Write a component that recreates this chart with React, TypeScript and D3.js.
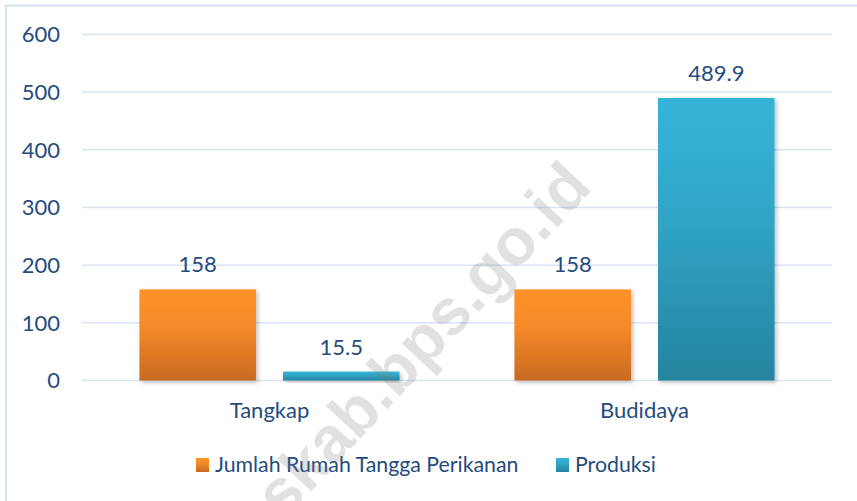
import React from "react";
import * as d3 from "d3";

const categories = ["Tangkap", "Budidaya"];
const seriesNames = ["Jumlah Rumah Tangga Perikanan", "Produksi"];
const rumahTangga = [158, 158];
const produksi = [15.5, 489.9];
const valueLabels = [["158", "15.5"], ["158", "489.9"]];
const yTicks = [0, 100, 200, 300, 400, 500, 600];

const W = 857;
const H = 501;
const FONT = "Lato, 'Open Sans', 'DejaVu Sans', sans-serif";
const TEXT = "#264b7d";

export default function App() {
  const y = d3.scaleLinear().domain([0, 600]).range([380.5, 34.5]);
  const x0 = d3.scaleBand<string>().domain(categories).range([82, 832]).padding(0);
  const x1 = d3
    .scaleBand<string>()
    .domain(seriesNames)
    .range([0, x0.bandwidth()])
    .paddingInner(0.188)
    .paddingOuter(0.4);

  const series = [rumahTangga, produksi];
  const grads = ["gOrange", "gTeal"];

  return (
    <svg
      width={W}
      height={H}
      style={{ position: "absolute", left: 0, top: 0, background: "#fff" }}
      fontFamily={FONT}
    >
      <defs>
        <linearGradient id="gOrange" x1="0" y1="0" x2="0" y2="1">
          <stop offset="0%" stopColor="#ff922b" />
          <stop offset="40%" stopColor="#f58a29" />
          <stop offset="100%" stopColor="#c96a1f" />
        </linearGradient>
        <linearGradient id="gTeal" x1="0" y1="0" x2="0" y2="1">
          <stop offset="0%" stopColor="#36b4d8" />
          <stop offset="40%" stopColor="#31a6c8" />
          <stop offset="100%" stopColor="#25849f" />
        </linearGradient>
        <filter id="shadow" x="-10%" y="-10%" width="130%" height="130%">
          <feDropShadow dx="2" dy="2" stdDeviation="2" floodColor="#000" floodOpacity="0.25" />
        </filter>
      </defs>

      <rect x={6} y={5.5} width={W} height={H} fill="#fff" stroke="#d6e2f2" strokeWidth={2} />

      {yTicks.map((t) => (
        <g key={t}>
          <line x1={82} x2={832} y1={y(t)} y2={y(t)} stroke="#d9e4f3" strokeWidth={1.5} />
          <text x={60} y={y(t)} dy="0.36em" textAnchor="end" fontSize={22} fill={TEXT}>
            {t}
          </text>
        </g>
      ))}

      {categories.map((c, ci) => (
        <g key={c} transform={`translate(${x0(c)},0)`}>
          {seriesNames.map((s, si) => {
            const v = series[si][ci];
            const bx = x1(s) as number;
            return (
              <g key={s}>
                <rect
                  x={bx}
                  y={y(v)}
                  width={x1.bandwidth()}
                  height={y(0) - y(v)}
                  fill={`url(#${grads[si]})`}
                  filter="url(#shadow)"
                />
                <text
                  x={bx + x1.bandwidth() / 2}
                  y={y(v) - 17}
                  textAnchor="middle"
                  fontSize={22}
                  fill={TEXT}
                >
                  {valueLabels[ci][si]}
                </text>
              </g>
            );
          })}
          <text x={x0.bandwidth() / 2} y={418} textAnchor="middle" fontSize={22} fill={TEXT}>
            {c}
          </text>
        </g>
      ))}

      <g>
        <rect x={196} y={458} width={13} height={14} fill="url(#gOrange)" />
        <text x={215} y={472} fontSize={21.3} fill={TEXT}>
          {seriesNames[0]}
        </text>
        <rect x={556} y={458} width={13} height={14} fill="url(#gTeal)" />
        <text x={575} y={472} fontSize={21.3} fill={TEXT}>
          {seriesNames[1]}
        </text>
      </g>

      <text
        transform="translate(414,381) rotate(-47)"
        textAnchor="middle"
        fontSize={65}
        fontWeight="bold"
        fontFamily="'Liberation Sans', Arial, sans-serif"
        fill="#7a7a7a"
        opacity={0.22}
      >
        kaskab.bps.go.id
      </text>
    </svg>
  );
}
